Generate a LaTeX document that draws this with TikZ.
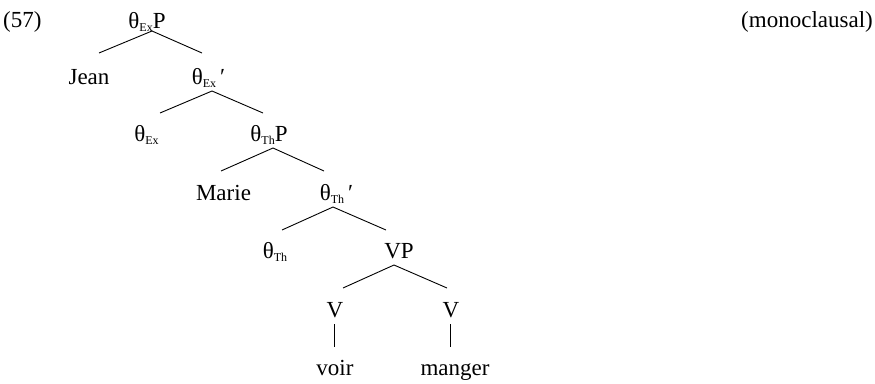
\documentclass[tikz,border=0pt]{standalone}
\usepackage{fontspec}
\setmainfont{Liberation Serif}
\usetikzlibrary{calc}
\newcommand\lsub[1]{\raisebox{-3pt}{\fontsize{12}{12}\selectfont #1}}
\newcommand\thx[1]{θ\lsub{#1}}
\begin{document}
\begin{tikzpicture}[x=1pt,y=-1pt,
  lab/.style={anchor=base,inner sep=0pt,font=\fontsize{23}{26}\selectfont},
  branch/.style={line width=0.9pt}]
\useasboundingbox (0,0) rectangle (875,383);
% example number and comment
\node[lab,anchor=base west] (num) at (3,27) {(57)};
\node[lab,anchor=base east] (note) at (873,27) {(monoclausal)};
% tree labels
\node[lab] (root)   at (147,28)  {\thx{Ex}P};
\node[lab] (jean)   at (89,84)   {Jean};
\node[lab] (exbar)  at (208.5,84) {\thx{Ex}\,′};
\node[lab] (exhead) at (146.5,141) {\thx{Ex}};
\node[lab] (thp)    at (269,141) {\thx{Th}P};
\node[lab] (marie)  at (223.5,200) {Marie};
\node[lab] (thbar)  at (336.5,200) {\thx{Th}\,′};
\node[lab] (thhead) at (275,258) {\thx{Th}};
\node[lab] (vp)     at (399,258) {VP};
\node[lab] (v1)     at (335,317) {V};
\node[lab] (v2)     at (451,317) {V};
\node[lab] (voir)   at (335,375) {voir};
\node[lab] (manger) at (455,375) {manger};
% branches
\draw[branch] ($(root.base)+(5,3)$)   -- ($(jean.base)+(10,-31)$);
\draw[branch] ($(root.base)+(5,3)$)   -- ($(exbar.base)+(-6.5,-31)$);
\draw[branch] ($(exbar.base)+(3.5,7)$) -- ($(exhead.base)+(13.5,-28)$);
\draw[branch] ($(exbar.base)+(3.5,7)$) -- ($(thp.base)+(-6,-28)$);
\draw[branch] ($(thp.base)+(4,7)$)    -- ($(marie.base)+(-2.5,-29)$);
\draw[branch] ($(thp.base)+(4,7)$)    -- ($(thbar.base)+(-12.5,-29)$);
\draw[branch] ($(thbar.base)+(-3.5,7)$) -- ($(thhead.base)+(7,-28)$);
\draw[branch] ($(thbar.base)+(-3.5,7)$) -- ($(vp.base)+(-13,-28)$);
\draw[branch] ($(vp.base)+(-5,7)$)    -- ($(v1.base)+(8,-29)$);
\draw[branch] ($(vp.base)+(-5,7)$)    -- ($(v2.base)+(-4,-29)$);
\draw[branch] ($(v1.base)+(-1,7)$)    -- ($(voir.base)+(-1,-28)$);
\draw[branch] ($(v2.base)+(-1,7)$)    -- ($(manger.base)+(-5,-28)$);
\end{tikzpicture}
\end{document}
